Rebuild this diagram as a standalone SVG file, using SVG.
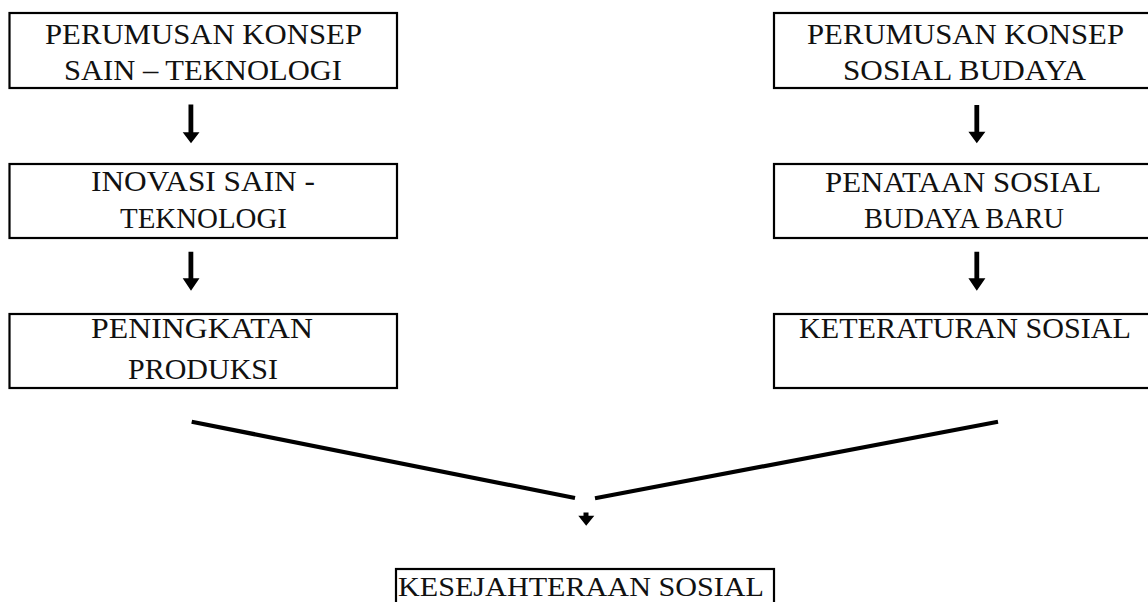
<svg xmlns="http://www.w3.org/2000/svg" width="1148" height="602" viewBox="0 0 1148 602">
<style>
.box{fill:#fff;stroke:#000;stroke-width:2.2}
.t{font-family:"Liberation Serif","Times New Roman",serif;font-size:28.5px;fill:#111;text-anchor:middle}
.ln{stroke:#000;stroke-width:4.2;fill:none}
.ah{fill:#000}
</style>
<rect width="1148" height="602" fill="#fff"/>
<g id="n1">
<rect class="box" x="9.5" y="13" width="387.5" height="75"/>
<text class="t" x="203.5" y="44" textLength="317" lengthAdjust="spacingAndGlyphs">PERUMUSAN KONSEP</text>
<text class="t" x="203" y="80" textLength="278" lengthAdjust="spacingAndGlyphs">SAIN – TEKNOLOGI</text>
</g>
<g id="n2">
<rect class="box" x="9.5" y="164" width="387.5" height="74"/>
<text class="t" x="203" y="191" textLength="224" lengthAdjust="spacingAndGlyphs">INOVASI SAIN -</text>
<text class="t" x="203.5" y="228" textLength="167" lengthAdjust="spacingAndGlyphs">TEKNOLOGI</text>
</g>
<g id="n3">
<rect class="box" x="9.5" y="314" width="387.5" height="74"/>
<text class="t" x="202" y="337.5" textLength="222" lengthAdjust="spacingAndGlyphs">PENINGKATAN</text>
<text class="t" x="203" y="379" textLength="150" lengthAdjust="spacingAndGlyphs">PRODUKSI</text>
</g>
<g id="n4">
<rect class="box" x="774" y="13" width="390" height="75"/>
<text class="t" x="965.5" y="44" textLength="317" lengthAdjust="spacingAndGlyphs">PERUMUSAN KONSEP</text>
<text class="t" x="964.5" y="80" textLength="243" lengthAdjust="spacingAndGlyphs">SOSIAL BUDAYA</text>
</g>
<g id="n5">
<rect class="box" x="774" y="164" width="390" height="74"/>
<text class="t" x="963" y="191.5" textLength="276" lengthAdjust="spacingAndGlyphs">PENATAAN SOSIAL</text>
<text class="t" x="964" y="228" textLength="200" lengthAdjust="spacingAndGlyphs">BUDAYA BARU</text>
</g>
<g id="n6">
<rect class="box" x="774" y="314" width="390" height="74"/>
<text class="t" x="965" y="338" textLength="332" lengthAdjust="spacingAndGlyphs">KETERATURAN SOSIAL</text>
</g>
<g id="n7">
<rect class="box" x="396" y="569" width="378" height="50"/>
<text class="t" x="581" y="596" style="font-size:27px" textLength="366" lengthAdjust="spacingAndGlyphs">KESEJAHTERAAN SOSIAL</text>
</g>
<g id="connectors">
<polygon class="ah" points="188.5,104.5 193.3,104.5 193.3,132.3 199.5,132.3 191,143.3 182.7,132.3 188.5,132.3"/>
<polygon class="ah" points="188.5,251.7 193.3,251.7 193.3,278.3 199.5,278.3 191,290.7 182.7,278.3 188.5,278.3"/>
<polygon class="ah" points="974.4,105 979.2,105 979.2,131.7 985.4,131.7 976.8,143.3 968.4,131.7 974.4,131.7"/>
<polygon class="ah" points="974.4,251.7 979.2,251.7 979.2,278.3 985.4,278.3 976.8,290.7 968.4,278.3 974.4,278.3"/>
<line class="ln" x1="191.7" y1="421.7" x2="575" y2="498"/>
<line class="ln" x1="595" y1="498.3" x2="998" y2="421.7"/>
<polygon class="ah" points="583.5,512.5 588.5,512.5 588.5,515.7 594.3,515.7 586.2,525.7 578.3,515.7 583.5,515.7"/>
</g>
</svg>
